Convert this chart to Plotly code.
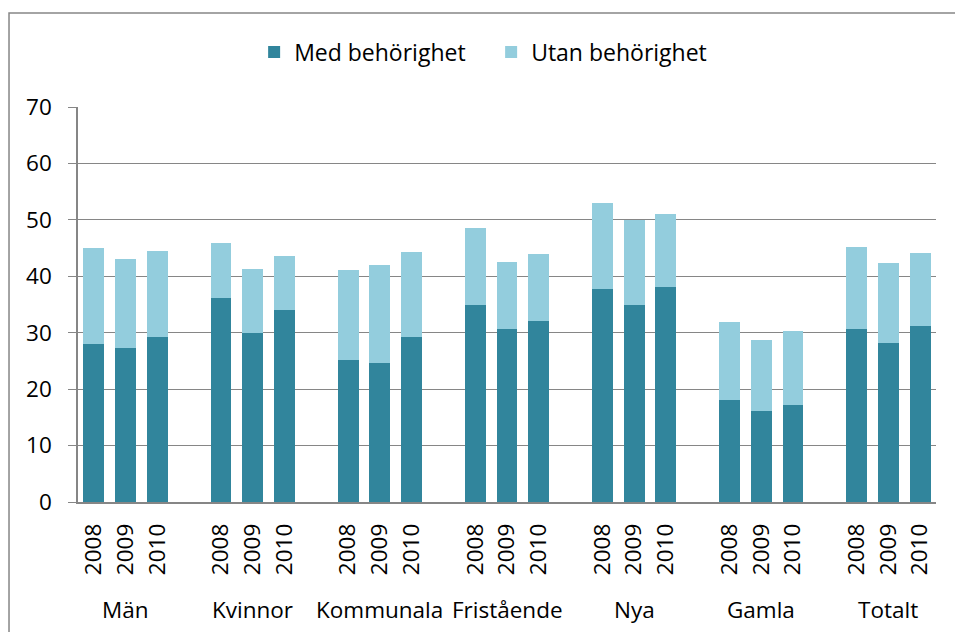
import plotly.graph_objects as go

groups = ["Män", "Kvinnor", "Kommunala", "Fristående", "Nya", "Gamla", "Totalt"]
years = ["2008", "2009", "2010"]

med = [28.0, 27.3, 29.2,
       36.1, 29.9, 34.0,
       25.2, 24.6, 29.2,
       34.9, 30.7, 32.1,
       37.7, 34.9, 38.1,
       18.1, 16.1, 17.2,
       30.7, 28.2, 31.2]
total = [45.0, 43.1, 44.5,
         45.9, 41.3, 43.6,
         41.1, 42.0, 44.3,
         48.6, 42.5, 44.0,
         53.0, 50.0, 51.0,
         31.9, 28.7, 30.3,
         45.2, 42.4, 44.1]
utan = [round(t - m, 1) for t, m in zip(total, med)]

x = [4 * g + i for g in range(len(groups)) for i in range(len(years))]
ticktext = [years[i] for g in range(len(groups)) for i in range(len(years))]

FONT = "Open Sans"
dark = "#31859C"
light = "#93CDDD"
grey = "#868686"

fig = go.Figure()
fig.add_bar(x=x, y=med, name="Med behörighet", marker_color=dark,
            marker_line_width=0, width=0.66)
fig.add_bar(x=x, y=utan, name="Utan behörighet", marker_color=light,
            marker_line_width=0, width=0.66)

for g, name in enumerate(groups):
    fig.add_annotation(x=4 * g + 1, xref="x", y=-0.273, yref="paper",
                       text=name, showarrow=False,
                       font=dict(family=FONT, size=22.5, color="#000"),
                       xanchor="center", yanchor="middle")

# outer chart border: only the left and top edges are inside the view
fig.add_shape(type="path", xref="paper", yref="paper",
              path="M -0.0804,-0.5 L -0.0804,1.238 L 1.2,1.238",
              line=dict(color=grey, width=1.5), layer="below")

fig.update_layout(
    barmode="stack",
    width=955, height=632,
    margin=dict(l=78, r=19, t=107, b=130),
    paper_bgcolor="white", plot_bgcolor="white",
    font=dict(family=FONT, size=22.5, color="#000"),
    legend=dict(orientation="h", x=0.4815, xanchor="center", y=1.139, yanchor="middle",
                font=dict(family=FONT, size=23), traceorder="normal",
                entrywidthmode="pixels", entrywidth=192),
    showlegend=True,
    xaxis=dict(range=[-0.5, 26.5], tickmode="array", tickvals=x, ticktext=ticktext,
               tickangle=-90, showgrid=False, zeroline=False, showline=True,
               linecolor=grey, linewidth=1.5, ticks="", tickfont=dict(size=22.5),
               ticklabelstandoff=11),
    yaxis=dict(range=[0, 70], dtick=10, showgrid=True, gridcolor=grey, gridwidth=1.3,
               zeroline=False, showline=True, linecolor=grey, linewidth=1.5,
               ticks="outside", ticklen=8, tickcolor=grey, tickfont=dict(size=22.5),
               ticklabelstandoff=12),
)

fig.write_html("out.html",
               config={"displayModeBar": False},
               post_script="document.body.style.margin='0';"
                           "document.body.style.overflow='hidden';")
